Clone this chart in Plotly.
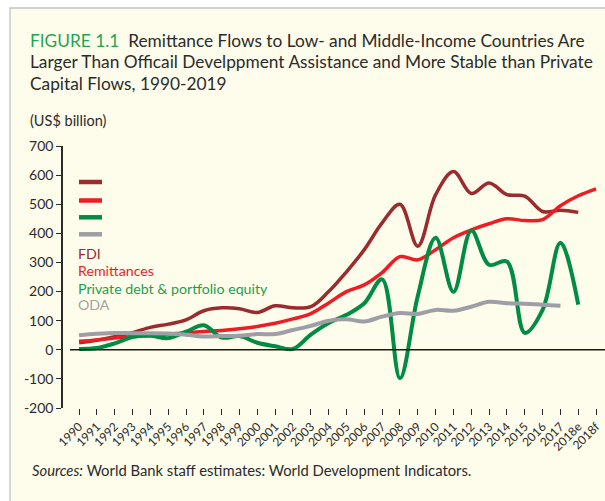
import plotly.graph_objects as go

years = [str(y) for y in range(1990, 2018)] + ["2018e", "2018f"]

fdi = [24, 33, 45, 59, 77, 88, 103, 134, 144, 141, 128, 151, 144, 148, 200, 268, 344, 436,
       500, 356, 533, 612, 537, 573, 533, 528, 475, 479, 472, None]
remittances = [29, 34, 40, 46, 50, 54, 58, 63, 66, 72, 80, 91, 106, 124, 161, 200, 223, 265,
               320, 309, 344, 385, 412, 433, 450, 444, 447, 495, 529, 553]
private = [3, 6, 22, 44, 48, 40, 62, 84, 42, 47, 24, 12, 3, 52, 92, 120, 160, 242,
           -98, 185, 385, 199, 410, 292, 303, 58, 137, 368, 155, None]
oda = [50, 55, 58, 57, 57, 56, 52, 46, 47, 48, 54, 54, 68, 82, 100, 105, 97, 114,
       126, 123, 137, 134, 148, 165, 160, 158, 155, 151, None, None]

y_ticks = [-200, -100, 0, 100, 200, 300, 400, 500, 600, 700]
y_ticktext = ["-200", "-100", "0", "100", "200", "300", "400", "500", "600", "700"]

series_names = ["FDI", "Remittances", "Private debt & portfolio equity", "ODA"]
series_data = [fdi, remittances, private, oda]
line_colors = ["#9A2B2E", "#EE1C25", "#008C45", "#9E9EA6"]
text_colors = ["#9A2B2E", "#EE1C25", "#1A9F52", "#A3A3A3"]
line_widths = [3.5, 3.5, 4, 4]

FONT = "Lato"
DARK = "#2B2B2B"

# layout geometry (pixels)
L, R, T, B = 63, 605, 146, 408
W, H = 605, 501


def px2x(px):
    return (px - L) / (R - L)


def py2y(py):
    return (B - py) / (B - T)


fig = go.Figure()
for name, data, col, lw in zip(series_names, series_data, line_colors, line_widths):
    fig.add_trace(go.Scatter(
        x=years, y=data, mode="lines", name=name,
        line=dict(color=col, width=lw, shape="spline", smoothing=1),
        connectgaps=False, showlegend=False,
    ))

shapes = []
# frame background
shapes.append(dict(type="rect", xref="paper", yref="paper",
                   x0=px2x(10), x1=px2x(W + 20), y0=py2y(8), y1=py2y(H + 20),
                   fillcolor="#FEFCEA", line=dict(color="#C4C4C4", width=1.3),
                   layer="below"))
# zero line
shapes.append(dict(type="line", xref="paper", yref="y",
                   x0=px2x(70), x1=1.0, y0=0, y1=0,
                   line=dict(color="#1A1A1A", width=1.4)))
# legend line segments
leg_line_y = [182, 200.5, 217.3, 234.3]
for yy, col in zip(leg_line_y, line_colors):
    shapes.append(dict(type="line", xref="paper", yref="paper",
                       x0=px2x(79), x1=px2x(102), y0=py2y(yy), y1=py2y(yy),
                       line=dict(color=col, width=4.5)))

annotations = []
leg_text_y = [253, 270.5, 288, 304.5]
for yy, name, col in zip(leg_text_y, series_names, text_colors):
    annotations.append(dict(xref="paper", yref="paper", x=px2x(76), y=py2y(yy),
                            xanchor="left", yanchor="middle", showarrow=False,
                            text=name, font=dict(family=FONT, size=14.2, color=col)))

title_lines = [
    "<span style='color:#1FA651'>FIGURE 1.1</span>  Remittance Flows to Low- and Middle-Income Countries Are",
    "Larger Than Officail Develppment Assistance and More Stable than Private",
    "Capital Flows, 1990-2019",
]
for yy, txt in zip([40, 62, 83.5], title_lines):
    annotations.append(dict(xref="paper", yref="paper", x=px2x(28), y=py2y(yy),
                            xanchor="left", yanchor="middle", showarrow=False,
                            text=txt, font=dict(family=FONT, size=17.3, color=DARK)))

annotations.append(dict(xref="paper", yref="paper", x=px2x(28), y=py2y(121),
                        xanchor="left", yanchor="middle", showarrow=False,
                        text="(US$ billion)", font=dict(family=FONT, size=14.5, color=DARK)))
annotations.append(dict(xref="paper", yref="paper", x=px2x(30), y=py2y(470),
                        xanchor="left", yanchor="middle", showarrow=False,
                        text="<i>Sources:</i> World Bank staff estimates: World Development Indicators.",
                        font=dict(family=FONT, size=14.8, color=DARK)))

fig.update_layout(
    width=W, height=H,
    margin=dict(l=L, r=W - R, t=T, b=H - B, pad=0, autoexpand=False),
    paper_bgcolor="white", plot_bgcolor="rgba(0,0,0,0)",
    font=dict(family=FONT, color=DARK),
    shapes=shapes, annotations=annotations,
    xaxis=dict(type="category", range=[-0.9, 29.5], showgrid=False, zeroline=False,
               showline=False, ticks="outside", ticklen=6, tickwidth=1.2, tickcolor=DARK,
               tickangle=-45, tickfont=dict(family=FONT, size=12, color=DARK),
               automargin=False, fixedrange=True),
    yaxis=dict(range=[-200, 700], tickvals=y_ticks, ticktext=y_ticktext,
               showgrid=False, zeroline=False, showline=True, linecolor=DARK,
               linewidth=1.5, ticks="outside", ticklen=5, tickwidth=1.3, tickcolor=DARK,
               tickfont=dict(family=FONT, size=14, color=DARK), automargin=False,
               fixedrange=True),
)

fig.write_html(
    "out.html",
    config={"displayModeBar": False},
    post_script="document.body.style.margin='0';document.body.style.overflow='hidden';",
)
